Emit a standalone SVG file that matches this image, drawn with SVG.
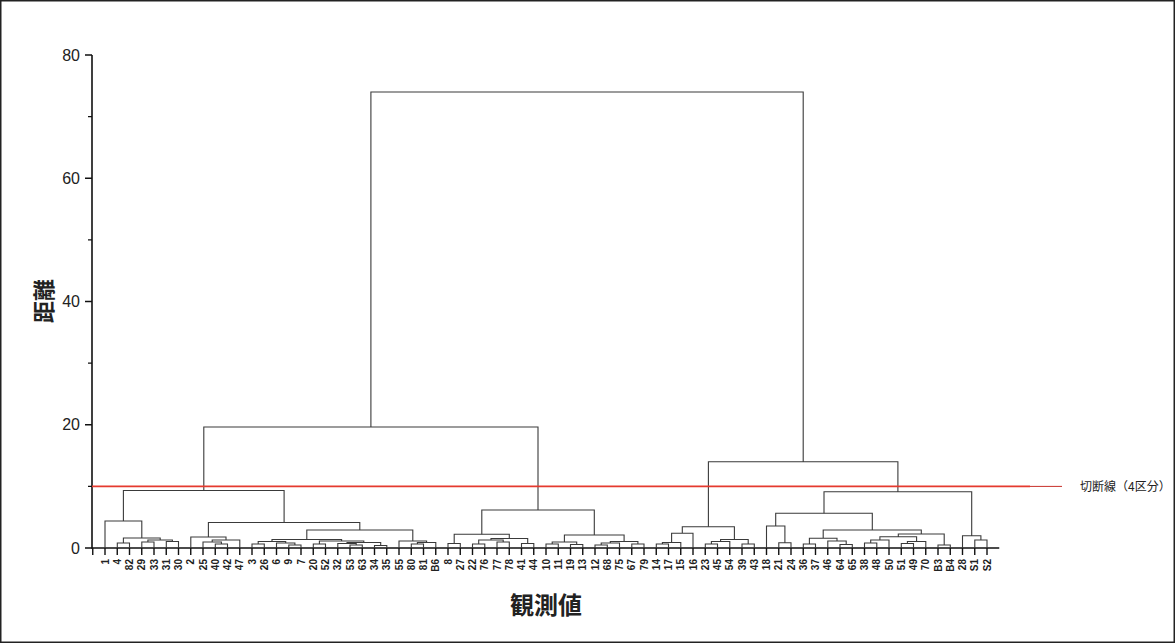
<svg xmlns="http://www.w3.org/2000/svg" width="1175" height="643" viewBox="0 0 1175 643">
<style>
.lk{fill:none;stroke:#3a3a3a;stroke-width:1.1}
.ax{fill:none;stroke:#111;stroke-width:1.6}
.tk{fill:none;stroke:#111;stroke-width:1.4}
.yl{font-family:"Liberation Sans",Arial,sans-serif;font-size:16px;fill:#222;text-anchor:end}
.lb{font-family:"Liberation Sans",Arial,sans-serif;font-size:10px;font-weight:bold;fill:#222;text-anchor:end}
.jp{font-family:"Noto Sans CJK JP","Noto Sans CJK SC",sans-serif;fill:#222}
</style>
<rect x="0.75" y="0.75" width="1173.5" height="641.5" fill="#fff" stroke="#222" stroke-width="1.5"/>
<g id="axes">
<path class="ax" d="M92 55V548H999.25"/>
<path class="tk" d="M85 55H92M88 116.6H92M85 178.25H92M88 239.9H92M85 301.5H92M88 363.1H92M85 424.75H92M88 486.4H92M85 548H92"/>
<path class="tk" d="M92.75 548v7m12.25-7v7m12.25-7v7m12.25-7v7m12.25-7v7m12.25-7v7m12.25-7v7m12.25-7v7m12.25-7v7m12.25-7v7m12.25-7v7m12.25-7v7m12.25-7v7m12.25-7v7m12.25-7v7m12.25-7v7m12.25-7v7m12.25-7v7m12.25-7v7m12.25-7v7m12.25-7v7m12.25-7v7m12.25-7v7m12.25-7v7m12.25-7v7m12.25-7v7m12.25-7v7m12.25-7v7m12.25-7v7m12.25-7v7m12.25-7v7m12.25-7v7m12.25-7v7m12.25-7v7m12.25-7v7m12.25-7v7m12.25-7v7m12.25-7v7m12.25-7v7m12.25-7v7m12.25-7v7m12.25-7v7m12.25-7v7m12.25-7v7m12.25-7v7m12.25-7v7m12.25-7v7m12.25-7v7m12.25-7v7m12.25-7v7m12.25-7v7m12.25-7v7m12.25-7v7m12.25-7v7m12.25-7v7m12.25-7v7m12.25-7v7m12.25-7v7m12.25-7v7m12.25-7v7m12.25-7v7m12.25-7v7m12.25-7v7m12.25-7v7m12.25-7v7m12.25-7v7m12.25-7v7m12.25-7v7m12.25-7v7m12.25-7v7m12.25-7v7m12.25-7v7m12.25-7v7m12.25-7v7"/>
<text class="yl" x="80" y="60.5">80</text>
<text class="yl" x="80" y="183.75">60</text>
<text class="yl" x="80" y="307">40</text>
<text class="yl" x="80" y="430.25">20</text>
<text class="yl" x="80" y="553.5">0</text>
</g>
<g id="titles">
<text class="jp" x="546" y="614" font-size="24" font-weight="bold" text-anchor="middle">観測値</text>
<text class="jp" transform="translate(52,301) rotate(-90)" font-size="22" font-weight="bold" text-anchor="middle">距離</text>
</g>
<g id="connectors">
<path class="lk" d="M117.3 548V543H129.5V548M141.8 548V542H154V548M166.3 548V541.5H178.5V548M147.9 542V540H172.4V541.5M123.4 543V538H160.2V540M105 548V521H141.8V538"/>
<path class="lk" d="M215.3 548V544H227.5V548M203 548V542H221.4V544M212.2 542V540H239.8V548M190.8 548V537H226V540"/>
<path class="lk" d="M252 548V544H264.3V548M288.8 548V545H301V548M276.5 548V543H294.9V545M258.2 544V541.5H285.7V543M313.3 548V544H325.5V548M350 548V545H362.3V548M337.8 548V543.5H356.2V545M374.5 548V545.5H386.8V548M347 543.5V542.5H380.7V545.5M319.4 544V541H363.8V542.5M272 541.5V539.5H341.6V541"/>
<path class="lk" d="M411.3 548V544H423.5V548M417.4 544V542.5H435.8V548M399 548V541H426.6V542.5M306.8 539.5V530H412.8V541M208.4 537V522.5H359.8V530M123.4 521V490.5H284.1V522.5"/>
<path class="lk" d="M448 548V543.5H460.3V548M472.5 548V544H484.8V548M497 548V542H509.3V548M478.7 544V540H503.2V542M521.5 548V543.5H533.8V548M491 540V538.5H527.7V543.5M454.2 543.5V534.3H509.3V538.5"/>
<path class="lk" d="M546 548V544H558.3V548M570.5 548V544.5H582.8V548M552.2 544V542H576.7V544.5M595 548V545H607.3V548M601.2 545V543H619.5V548M631.8 548V544H644V548M610.3 543V541.5H637.9V544M564.4 542V535H624.1V541.5M481.8 534.3V510H594.3V535M203.8 490.5V427H538V510"/>
<path class="lk" d="M656.3 548V544H668.5V548M662.4 544V542.5H680.8V548M671.6 542.5V533.3H693V548M705.3 548V544H717.5V548M711.4 544V541.5H729.8V548M742 548V544H754.3V548M720.6 541.5V539.5H748.2V544M682.3 533.3V526.7H734.4V539.5"/>
<path class="lk" d="M778.8 548V542.7H791V548M766.5 548V526H784.9V542.7M803.3 548V544H815.5V548M840 548V544.5H852.3V548M827.8 548V541H846.2V544.5M809.4 544V538.3H837V541M864.5 548V543H876.8V548M870.7 543V540H889V548M901.3 548V543.5H913.5V548M907.4 543.5V541.5H925.8V548M879.9 540V536.7H916.6V541.5M938 548V545H950.3V548M898.3 536.7V534H944.2V545M823.2 538.3V530H921.3V534M775.7 526V513.3H872.3V530"/>
<path class="lk" d="M974.8 548V540H987V548M962.5 548V535.7H980.9V540M824 513.3V491.7H971.7V535.7M708.4 526.7V461.7H897.9V491.7M370.9 427V92H803.2V461.7"/>
</g>
<g id="cutline">
<path d="M92 486.4H1030" stroke="#e53a2f" stroke-width="1.6"/>
<path d="M1030 486.4H1062" stroke="#c8302a" stroke-width="1"/>
<text class="jp" x="1080" y="490.5" font-size="12">切断線（4区分）</text>
</g>
<g id="leaf-labels">
<text class="lb" transform="translate(108.6,559) rotate(-90)">1</text>
<text class="lb" transform="translate(120.9,559) rotate(-90)">4</text>
<text class="lb" transform="translate(133.1,559) rotate(-90)">82</text>
<text class="lb" transform="translate(145.4,559) rotate(-90)">29</text>
<text class="lb" transform="translate(157.6,559) rotate(-90)">33</text>
<text class="lb" transform="translate(169.9,559) rotate(-90)">31</text>
<text class="lb" transform="translate(182.1,559) rotate(-90)">30</text>
<text class="lb" transform="translate(194.4,559) rotate(-90)">2</text>
<text class="lb" transform="translate(206.6,559) rotate(-90)">25</text>
<text class="lb" transform="translate(218.9,559) rotate(-90)">40</text>
<text class="lb" transform="translate(231.1,559) rotate(-90)">42</text>
<text class="lb" transform="translate(243.4,559) rotate(-90)">47</text>
<text class="lb" transform="translate(255.6,559) rotate(-90)">3</text>
<text class="lb" transform="translate(267.9,559) rotate(-90)">26</text>
<text class="lb" transform="translate(280.1,559) rotate(-90)">6</text>
<text class="lb" transform="translate(292.4,559) rotate(-90)">9</text>
<text class="lb" transform="translate(304.6,559) rotate(-90)">7</text>
<text class="lb" transform="translate(316.9,559) rotate(-90)">20</text>
<text class="lb" transform="translate(329.1,559) rotate(-90)">52</text>
<text class="lb" transform="translate(341.4,559) rotate(-90)">32</text>
<text class="lb" transform="translate(353.6,559) rotate(-90)">53</text>
<text class="lb" transform="translate(365.9,559) rotate(-90)">63</text>
<text class="lb" transform="translate(378.1,559) rotate(-90)">34</text>
<text class="lb" transform="translate(390.4,559) rotate(-90)">35</text>
<text class="lb" transform="translate(402.6,559) rotate(-90)">55</text>
<text class="lb" transform="translate(414.9,559) rotate(-90)">80</text>
<text class="lb" transform="translate(427.1,559) rotate(-90)">81</text>
<text class="lb" transform="translate(439.4,559) rotate(-90)">B6</text>
<text class="lb" transform="translate(451.6,559) rotate(-90)">8</text>
<text class="lb" transform="translate(463.9,559) rotate(-90)">27</text>
<text class="lb" transform="translate(476.1,559) rotate(-90)">22</text>
<text class="lb" transform="translate(488.4,559) rotate(-90)">76</text>
<text class="lb" transform="translate(500.6,559) rotate(-90)">77</text>
<text class="lb" transform="translate(512.9,559) rotate(-90)">78</text>
<text class="lb" transform="translate(525.1,559) rotate(-90)">41</text>
<text class="lb" transform="translate(537.4,559) rotate(-90)">44</text>
<text class="lb" transform="translate(549.6,559) rotate(-90)">10</text>
<text class="lb" transform="translate(561.9,559) rotate(-90)">11</text>
<text class="lb" transform="translate(574.1,559) rotate(-90)">19</text>
<text class="lb" transform="translate(586.4,559) rotate(-90)">13</text>
<text class="lb" transform="translate(598.6,559) rotate(-90)">12</text>
<text class="lb" transform="translate(610.9,559) rotate(-90)">68</text>
<text class="lb" transform="translate(623.1,559) rotate(-90)">75</text>
<text class="lb" transform="translate(635.4,559) rotate(-90)">67</text>
<text class="lb" transform="translate(647.6,559) rotate(-90)">79</text>
<text class="lb" transform="translate(659.9,559) rotate(-90)">14</text>
<text class="lb" transform="translate(672.1,559) rotate(-90)">17</text>
<text class="lb" transform="translate(684.4,559) rotate(-90)">15</text>
<text class="lb" transform="translate(696.6,559) rotate(-90)">16</text>
<text class="lb" transform="translate(708.9,559) rotate(-90)">23</text>
<text class="lb" transform="translate(721.1,559) rotate(-90)">45</text>
<text class="lb" transform="translate(733.4,559) rotate(-90)">54</text>
<text class="lb" transform="translate(745.6,559) rotate(-90)">39</text>
<text class="lb" transform="translate(757.9,559) rotate(-90)">43</text>
<text class="lb" transform="translate(770.1,559) rotate(-90)">18</text>
<text class="lb" transform="translate(782.4,559) rotate(-90)">21</text>
<text class="lb" transform="translate(794.6,559) rotate(-90)">24</text>
<text class="lb" transform="translate(806.9,559) rotate(-90)">36</text>
<text class="lb" transform="translate(819.1,559) rotate(-90)">37</text>
<text class="lb" transform="translate(831.4,559) rotate(-90)">46</text>
<text class="lb" transform="translate(843.6,559) rotate(-90)">64</text>
<text class="lb" transform="translate(855.9,559) rotate(-90)">65</text>
<text class="lb" transform="translate(868.1,559) rotate(-90)">38</text>
<text class="lb" transform="translate(880.4,559) rotate(-90)">48</text>
<text class="lb" transform="translate(892.6,559) rotate(-90)">50</text>
<text class="lb" transform="translate(904.9,559) rotate(-90)">51</text>
<text class="lb" transform="translate(917.1,559) rotate(-90)">49</text>
<text class="lb" transform="translate(929.4,559) rotate(-90)">70</text>
<text class="lb" transform="translate(941.6,559) rotate(-90)">B3</text>
<text class="lb" transform="translate(953.9,559) rotate(-90)">B4</text>
<text class="lb" transform="translate(966.1,559) rotate(-90)">28</text>
<text class="lb" transform="translate(978.4,559) rotate(-90)">S1</text>
<text class="lb" transform="translate(990.6,559) rotate(-90)">S2</text>
</g>
</svg>
